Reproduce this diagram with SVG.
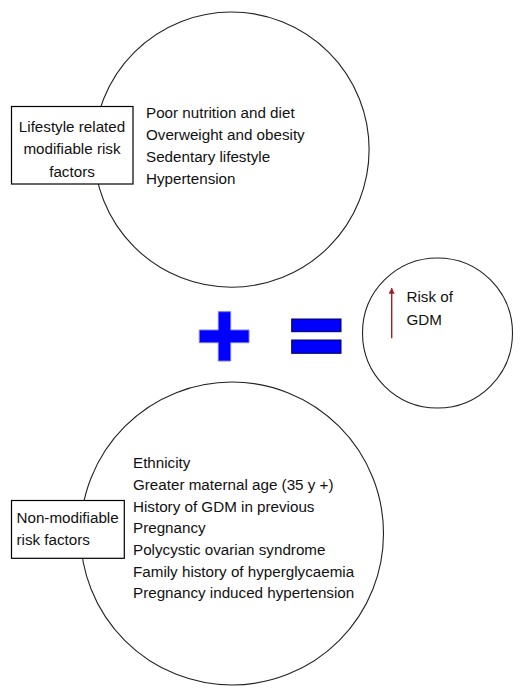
<svg xmlns="http://www.w3.org/2000/svg" width="525" height="698" viewBox="0 0 525 698">
<style>
.c{fill:none;stroke:#222;stroke-width:1.1}
.b{fill:#fff;stroke:#000;stroke-width:1.2}
text{font-family:"Liberation Sans",Arial,sans-serif;font-size:15.2px;fill:#111}
.m{text-anchor:middle}
</style>
<defs>
<marker id="ah" viewBox="0 0 10 10" refX="9" refY="5" markerWidth="8" markerHeight="6" markerUnits="userSpaceOnUse" orient="auto">
<path d="M0,0 L10,5 L0,10 Z" fill="#a0202a"/>
</marker>
</defs>
<g id="circle-lifestyle">
<circle class="c" cx="231.5" cy="149.6" r="137.6"/>
<text x="146" y="118.3">Poor nutrition and diet</text>
<text x="146" y="140">Overweight and obesity</text>
<text x="146" y="161.7">Sedentary lifestyle</text>
<text x="146" y="184">Hypertension</text>
</g>
<g id="box-lifestyle">
<rect class="b" x="11.5" y="106.5" width="121.5" height="77.5"/>
<text class="m" x="72" y="131.7">Lifestyle related</text>
<text class="m" x="72" y="154.3">modifiable risk</text>
<text class="m" x="72" y="176.7">factors</text>
</g>
<g id="circle-nonmod">
<circle class="c" cx="232" cy="533.5" r="151.5"/>
<text x="133" y="468.3">Ethnicity</text>
<text x="133" y="490">Greater maternal age (35 y +)</text>
<text x="133" y="511.7">History of GDM in previous</text>
<text x="133" y="533.3">Pregnancy</text>
<text x="133" y="555">Polycystic ovarian syndrome</text>
<text x="133" y="576.7">Family history of hyperglycaemia</text>
<text x="133" y="598.3">Pregnancy induced hypertension</text>
</g>
<g id="box-nonmod">
<rect class="b" x="11.5" y="500.5" width="112.8" height="57.8"/>
<text x="16.5" y="523.3">Non-modifiable</text>
<text x="16.5" y="545">risk factors</text>
</g>
<g id="plus">
<path d="M218.3,311.7 H230.7 V330 H249 V342.7 H230.7 V361 H218.3 V342.7 H199.3 V330 H218.3 Z" fill="#0000ff" stroke="#7777ee" stroke-width="1"/>
</g>
<g id="equals">
<rect x="291.7" y="319" width="49.3" height="12.7" fill="#0000ff" stroke="#000050" stroke-width="1"/>
<rect x="291.7" y="340" width="49.3" height="13.3" fill="#0000ff" stroke="#000050" stroke-width="1"/>
</g>
<g id="circle-risk">
<circle class="c" cx="437.5" cy="333" r="75"/>
<text x="406.5" y="301.7">Risk of</text>
<text x="406.5" y="325">GDM</text>
</g>
<g id="connectors">
<line x1="391.7" y1="338.3" x2="391.7" y2="288.3" stroke="#a0202a" stroke-width="1.4" marker-end="url(#ah)"/>
</g>
</svg>
